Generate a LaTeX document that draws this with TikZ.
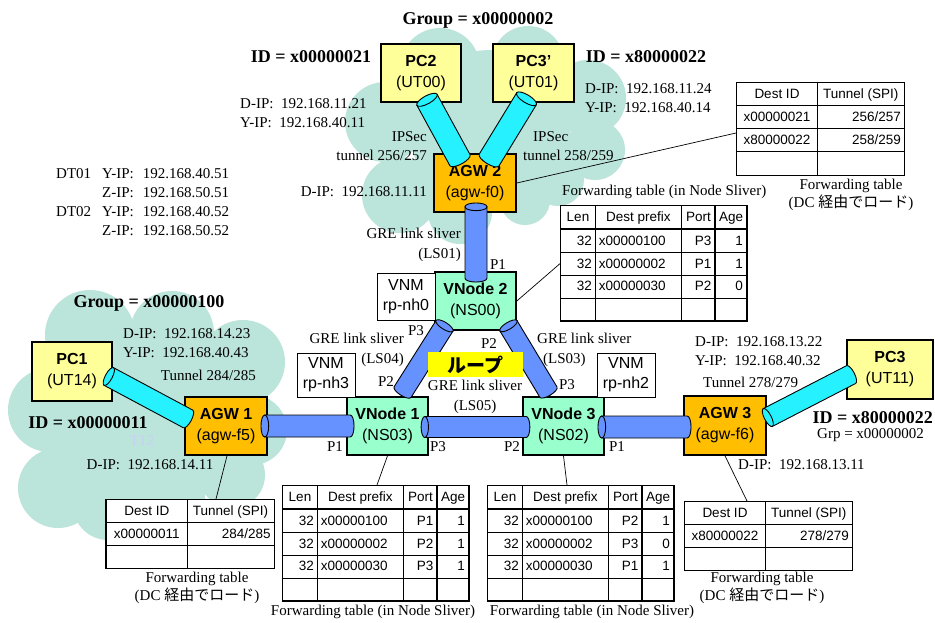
\documentclass[tikz,border=0pt]{standalone}
\usepackage{fontspec}
\usepackage{array}
\usetikzlibrary{calc}
\setmainfont{Liberation Serif}
\setsansfont{Liberation Sans}
\newfontfamily\jpfont{Noto Sans CJK JP}

\definecolor{cloudteal}{RGB}{187,228,218}
\definecolor{pcyellow}{RGB}{255,255,153}
\definecolor{agworange}{RGB}{255,190,0}
\definecolor{vnmint}{RGB}{153,255,204}
\definecolor{tubecyan}{RGB}{38,242,255}
\definecolor{tubeblue}{RGB}{102,146,255}
\definecolor{loopyellow}{RGB}{255,255,0}
\definecolor{faintblue}{RGB}{200,208,245}

\newcolumntype{L}[1]{>{\raggedright\arraybackslash}p{#1}}
\newcolumntype{R}[1]{>{\raggedleft\arraybackslash}p{#1}}
\newcolumntype{C}[1]{>{\centering\arraybackslash}p{#1}}
\newcolumntype{T}{!{\vrule width 1.6pt}}
\setlength{\tabcolsep}{3pt}
\setlength{\arrayrulewidth}{0.8pt}
\renewcommand{\arraystretch}{1.38}

% forwarding table of a node sliver: port/age for the three prefixes
\newcommand{\fwdtab}[6]{%
  \begin{tabular}{|R{28pt}|L{79pt}TR{26pt}TR{24pt}T}
    \hline
    \multicolumn{1}{|c|}{Len} & \multicolumn{1}{cT}{Dest prefix} &
    \multicolumn{1}{cT}{Port} & \multicolumn{1}{cT}{Age}\\
    \noalign{\hrule height 1.6pt}
    32 & x00000100 & #1 & #2\\ \hline
    32 & x00000002 & #3 & #4\\ \hline
    32 & x00000030 & #5 & #6\\ \hline
       &           &    &   \\
    \noalign{\hrule height 1.6pt}
  \end{tabular}}

% tube from #1 (open end) to #2, colour #3, radius #4
\newcommand{\tube}[4]{%
  \path let \p1=($(#2)-(#1)$) in \pgfextra{%
    \pgfmathsetmacro{\tubeangle}{atan2(\y1,\x1)}%
    \pgfmathsetmacro{\tubelength}{veclen(\x1,\y1)}%
    \xdef\tubeangle{\tubeangle}\xdef\tubelength{\tubelength}};
  \begin{scope}[shift={(#1)}, rotate=\tubeangle]
    \draw[tubeedge, fill=#3] (0pt,#4) -- (\tubelength pt,#4)
      arc[start angle=90, end angle=-90, x radius=0.35*#4, y radius=#4]
      -- (0pt,-#4) -- cycle;
    \draw[tubeedge, fill=#3] (0pt,0pt) ellipse[x radius=0.35*#4, y radius=#4];
  \end{scope}}

\begin{document}
\begin{tikzpicture}[x=1pt, y=-1pt,
    lbl/.style={font=\fontsize{15}{19.5}\selectfont, inner sep=0pt},
    bigl/.style={font=\bfseries\fontsize{18}{22}\selectfont, inner sep=0pt},
    capl/.style={font=\fontsize{15}{18}\selectfont, inner sep=0pt, align=center},
    hostbox/.style={rectangle, draw, line width=1.6pt, align=center,
        minimum width=80pt, minimum height=58pt,
        font=\sffamily\fontsize{16}{21}\selectfont},
    pcbox/.style={hostbox, fill=pcyellow},
    agwbox/.style={hostbox, fill=agworange, minimum width=82pt},
    vnodebox/.style={hostbox, fill=vnmint, minimum width=81pt},
    vnmbox/.style={rectangle, draw, line width=0.8pt, fill=white, align=center,
        minimum width=58pt, minimum height=44pt,
        font=\sffamily\fontsize{16}{20}\selectfont},
    tablebox/.style={inner sep=0pt, fill=white, anchor=north west,
        font=\sffamily\fontsize{13.5}{16}\selectfont},
    tubeedge/.style={line width=0.9pt, draw=black},
    pointer/.style={line width=0.7pt}
  ]
  \path[fill=white, use as bounding box] (0,0) rectangle (935,622);

  % clouds
  \fill[cloudteal] (440,68) circle[radius=40] (528,62) circle[radius=36]
    (588,98) circle[radius=38] (385,122) circle[radius=40]
    (595,150) circle[radius=30] (558,180) circle[radius=26]
    (400,195) circle[radius=38] (460,212) circle[radius=32]
    (490,130) circle[radius=80] (525,200) circle[radius=25];
  \fill[cloudteal] (90,335) circle[radius=45] (172,333) circle[radius=42]
    (243,362) circle[radius=42] (50,410) circle[radius=42]
    (252,430) circle[radius=35] (58,488) circle[radius=40]
    (108,505) circle[radius=35] (232,475) circle[radius=33]
    (150,430) circle[radius=85] (175,495) circle[radius=30];

  % labels
  \node[bigl] (grp2) at (478,20) {Group = x00000002};
  \node[bigl] (id21) at (311,57) {ID = x00000021};
  \node[bigl] (id22) at (646,57) {ID = x80000022};
  \node[lbl, align=left, anchor=west] (ip21) at (240,113)
    {D-IP:\ \ 192.168.11.21\\Y-IP:\ \ 192.168.40.11};
  \node[lbl, align=left, anchor=west] (ip24) at (585,98)
    {D-IP:\ \ 192.168.11.24\\Y-IP:\ \ 192.168.40.14};
  \node[lbl, align=right, anchor=east] (ips1) at (427,146)
    {IPSec\\tunnel 256/257};
  \node[lbl, align=left, anchor=west] (ips2) at (523,146)
    {\hspace*{10pt}IPSec\\tunnel 258/259};
  \node[lbl, anchor=east] (ip11) at (427,192) {D-IP:\ \ 192.168.11.11};
  \node[lbl, font=\fontsize{15}{19}\selectfont, anchor=north west] (dtip) at (56,165)
    {\renewcommand{\arraystretch}{1}%
     \begin{tabular}{@{}l@{\hspace{11pt}}l@{\hspace{9pt}}l@{}}
       DT01 & Y-IP: & 192.168.40.51\\
            & Z-IP: & 192.168.50.51\\
       DT02 & Y-IP: & 192.168.40.52\\
            & Z-IP: & 192.168.50.52
     \end{tabular}};
  \node[lbl, align=right, anchor=east] (gre1) at (461,245)
    {GRE link sliver\\(LS01)};
  \node[lbl] (p1a) at (498,265) {P1};
  \node[lbl, anchor=west] (fwd2cap) at (562,192) {Forwarding table (in Node Sliver)};
  \node[capl] (dest2cap) at (851,195) {Forwarding table\\(DC {\jpfont 経由でロード})};
  \node[lbl] (p3a) at (416,331) {P3};
  \node[lbl] (p2a) at (489,344) {P2};
  \node[lbl, align=right, anchor=east] (gre4) at (404,350)
    {GRE link sliver\\(LS04)};
  \node[lbl, align=left, anchor=west] (gre3) at (537,350)
    {GRE link sliver\\\hspace*{6pt}(LS03)};
  \node[lbl, align=center] (gre5) at (475,397) {GRE link sliver\\(LS05)};
  \node[lbl] (p2b) at (386,382) {P2};
  \node[lbl] (p3b) at (567,385) {P3};
  \node[lbl] (p1b) at (335,447) {P1};
  \node[lbl] (p3c) at (438,447) {P3};
  \node[lbl] (p2c) at (512,447) {P2};
  \node[lbl] (p1c) at (617,447) {P1};
  \node[bigl] (grp100) at (149,303) {Group = x00000100};
  \node[lbl, align=left, anchor=west] (ip23) at (123,343)
    {D-IP:\ \ 192.168.14.23\\Y-IP:\ \ 192.168.40.43};
  \node[lbl, anchor=east] (tun284) at (256,375) {Tunnel 284/285};
  \node[bigl] (id11) at (88,423) {ID = x00000011};
  \node[lbl, text=faintblue] (t12) at (142,441) {T12};
  \node[lbl] (ip14) at (150,465) {D-IP:\ \ 192.168.14.11};
  \node[capl] (dest1cap) at (197,588) {Forwarding table\\(DC {\jpfont 経由でロード})};
  \node[lbl] (fwd1cap) at (373,612) {Forwarding table (in Node Sliver)};
  \node[lbl] (fwd3cap) at (592,612) {Forwarding table (in Node Sliver)};
  \node[lbl, align=left, anchor=west] (ip13) at (695,351)
    {D-IP:\ \ 192.168.13.22\\Y-IP:\ \ 192.168.40.32};
  \node[lbl, anchor=west] (tun278) at (703,382) {Tunnel 278/279};
  \node[bigl, anchor=east] (id22r) at (933,418) {ID = x80000022};
  \node[lbl, anchor=west] (grp) at (817,435) {Grp = x00000002};
  \node[lbl, anchor=west] (ip1311) at (738,465) {D-IP:\ \ 192.168.13.11};
  \node[capl] (dest3cap) at (762,588) {Forwarding table\\(DC {\jpfont 経由でロード})};

  % boxes
  \node[pcbox] (pc2) at (421,73) {\textbf{PC2}\\(UT00)};
  \node[pcbox, minimum width=81pt] (pc3p) at (533.5,73) {\textbf{PC3’}\\(UT01)};
  \node[agwbox] (agw2) at (475,183) {\textbf{AGW 2}\\(agw-f0)};
  \node[vnodebox] (vn2) at (475.5,301) {\textbf{VNode 2}\\(NS00)};
  \node[vnmbox, minimum height=47pt] (vnm0) at (406,296.5) {VNM\\rp-nh0};
  \node[vnodebox] (vn1) at (387.5,426) {\textbf{VNode 1}\\(NS03)};
  \node[vnodebox] (vn3) at (563.5,426) {\textbf{VNode 3}\\(NS02)};
  \node[vnmbox] (vnm3) at (326,375) {VNM\\rp-nh3};
  \node[vnmbox] (vnm2) at (626,375) {VNM\\rp-nh2};
  \node[agwbox] (agw1) at (226,426) {\textbf{AGW 1}\\(agw-f5)};
  \node[pcbox, minimum height=59pt] (pc1) at (72,371.5) {\textbf{PC1}\\(UT14)};
  \node[agwbox, minimum height=59pt] (agw3) at (725,425.5) {\textbf{AGW 3}\\(agw-f6)};
  \node[pcbox, minimum width=86pt, minimum height=59pt] (pc3) at (890,369.5)
    {\textbf{PC3}\\(UT11)};

  % tables
  \node[tablebox] (dest2) at (736,82) {%
    \begin{tabular}{|C{74pt}|R{80pt}|}
      \hline
      Dest ID & \multicolumn{1}{c|}{Tunnel (SPI)}\\ \hline
      x00000021 & 256/257\\ \hline
      x80000022 & 258/259\\ \noalign{\hrule height 1.6pt}
                &        \\ \hline
    \end{tabular}};
  \node[tablebox] (dest1) at (105,499) {%
    \begin{tabular}{!{\vrule width 1.6pt}C{74pt}|R{80pt}T}
      \hline
      Dest ID & \multicolumn{1}{cT}{Tunnel (SPI)}\\ \hline
      x00000011 & 284/285\\ \hline
                &        \\ \noalign{\hrule height 1.6pt}
    \end{tabular}};
  \node[tablebox] (dest3) at (684,501) {%
    \begin{tabular}{|C{74pt}|R{80pt}|}
      \hline
      Dest ID & \multicolumn{1}{c|}{Tunnel (SPI)}\\ \hline
      x80000022 & 278/279\\ \hline
                &        \\ \hline
    \end{tabular}};
  \node[tablebox] (fwd2) at (560,205) {\fwdtab{P3}{1}{P1}{1}{P2}{0}};
  \node[tablebox] (fwd1) at (282,485) {\fwdtab{P1}{1}{P2}{1}{P3}{1}};
  \node[tablebox] (fwd3) at (487,485) {\fwdtab{P2}{1}{P3}{0}{P1}{1}};

  % tube ends
  \coordinate (t1a) at ($(pc2.south)+(6,-3)$);
  \coordinate (t1b) at ($(agw2.north)+(-15,7)$);
  \coordinate (t2a) at ($(pc3p.south)+(-7,-4)$);
  \coordinate (t2b) at ($(agw2.north)+(14,7)$);
  \coordinate (t3a) at ($(agw2.south)+(1,-6)$);
  \coordinate (t3b) at ($(vn2.north)+(0.5,7)$);
  \coordinate (t4a) at ($(vn2.south)+(-31,-5)$);
  \coordinate (t4b) at ($(vn1.north)+(15,-4)$);
  \coordinate (t5a) at ($(vn2.south)+(33,-5)$);
  \coordinate (t5b) at ($(vn3.north)+(-15,-4)$);
  \coordinate (t6a) at ($(vn1.east)+(-4,1)$);
  \coordinate (t6b) at ($(vn3.west)+(4,1)$);
  \coordinate (t7a) at ($(agw1.east)+(-3,0)$);
  \coordinate (t7b) at ($(vn1.west)+(4,0)$);
  \coordinate (t8a) at ($(vn3.east)+(-3,1)$);
  \coordinate (t8b) at ($(agw3.west)+(4,1.5)$);
  \coordinate (t9a) at ($(pc1.east)+(-4,5)$);
  \coordinate (t9b) at ($(agw1.west)+(4,-7)$);
  \coordinate (t10a) at ($(agw3.east)+(1,-8)$);
  \coordinate (t10b) at ($(pc3.west)+(5,5)$);

  % tubes
  \tube{t1a}{t1b}{tubecyan}{11.5pt}
  \tube{t2a}{t2b}{tubecyan}{11.5pt}
  \tube{t3a}{t3b}{tubeblue}{11pt}
  \tube{t4a}{t4b}{tubeblue}{10pt}
  \tube{t5a}{t5b}{tubeblue}{10pt}
  \tube{t6a}{t6b}{tubeblue}{10.5pt}
  \tube{t7a}{t7b}{tubeblue}{11pt}
  \tube{t8a}{t8b}{tubeblue}{11pt}
  \tube{t9a}{t9b}{tubecyan}{10pt}
  \tube{t10a}{t10b}{tubecyan}{10pt}

  \node[fill=loopyellow, minimum width=95pt, minimum height=25pt, inner sep=0pt,
    font=\jpfont\bfseries\fontsize{19}{21}\selectfont] (loop) at (475.5,364.5) {ループ};

  % pointers to the tables
  \draw[pointer] (agw2.east) -- ($(dest2.north west)+(0,51)$);
  \draw[pointer] (vn2.east) -- (fwd2.west);
  \draw[pointer] (vn1.south) -- ($(fwd1.north west)+(95,0)$);
  \draw[pointer] (vn3.south) -- ($(fwd3.north west)+(80,0)$);
  \draw[pointer] ($(agw1.south)+(1,0)$) -- ($(dest1.north west)+(111,0)$);
  \draw[pointer] (agw3.south) -- ($(dest3.north west)+(63,0)$);
\end{tikzpicture}
\end{document}
